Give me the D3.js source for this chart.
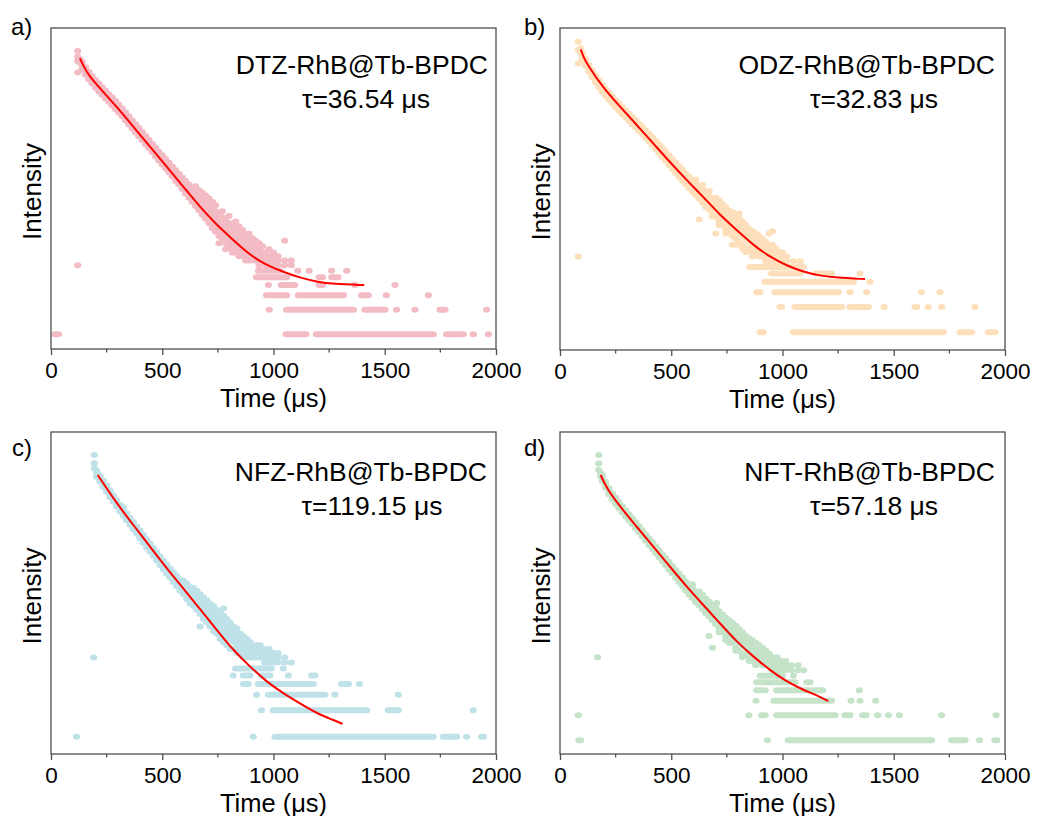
<!DOCTYPE html>
<html>
<head>
<meta charset="utf-8">
<script src="https://cdn.jsdelivr.net/npm/d3@7"></script>
<style>
  body { margin: 0; background: #fff; }
</style>
</head>
<body>
<div id="chart"></div>
<script>
// ---- data ----
const xTicks = [0, 500, 1000, 1500, 2000];
const xMinorTicks = [250, 750, 1250, 1750];

const panelLabels = ["a)", "b)", "c)", "d)"];
const sampleNames = ["DTZ-RhB@Tb-BPDC", "ODZ-RhB@Tb-BPDC", "NFZ-RhB@Tb-BPDC", "NFT-RhB@Tb-BPDC"];
const lifetimes = ["τ=36.54 μs", "τ=32.83 μs", "τ=119.15 μs", "τ=57.18 μs"];

// intensity (counts) range of each log axis
const yRangeA = [0.661, 5610];
const yRangeB = [0.616, 4195];
const yRangeC = [0.635, 2980];
const yRangeD = [0.684, 5183];

// decay points: [time (μs), [counts at that time]]
const bandA = [
  [120,[2940,2500,2200,1600]],[130,[2350,2100]],[140,[2150,1950,1750]],[155,[1850,1680,1500]],
  [170,[1620,1460,1320]],[185,[1450,1300,1170]],[200,[1300,1160,1040]],[215,[1170,1050,940]],
  [230,[1060,950,850]],[245,[960,860,770]],[260,[870,780,700]],[275,[790,705,630]],
  [290,[715,640,570]],[305,[645,575,515]],[320,[580,520,465]],[335,[520,465,415]],
  [350,[465,415,370]],[365,[415,370,330]],[380,[372,332,296,350]],[395,[335,298,265]],
  [410,[300,266,238,285]],[425,[268,238,212,255]],[440,[240,213,190,228]],[455,[215,190,170,205]],
  [470,[192,170,150,182]],[485,[172,152,134,165]],[500,[155,136,120,148]],[515,[140,122,107,132]],
  [530,[126,110,96,118]],[545,[113,98,86,106,92]],[560,[102,88,76,95]],[575,[92,79,68,85,74]],
  [590,[83,70,60,77,66]],[605,[75,63,53,69,58]],[620,[68,56,47,62,51]],[635,[62,50,42,56,45]],
  [650,[57,45,37,50,41,65]],[665,[52,40,33,45,36,58]],[680,[47,36,29,41,32,54]],[695,[43,32,26,37,29,50]],
  [710,[39,29,23,33,26,46]],[725,[35,26,20,30,23,42]],[740,[32,24,18,27,21,38]],[755,[29,22,16,25,19,13]],
  [770,[27,20,15,23,17,32]],[785,[25,18,13,21,16,11]],[800,[23,17,12,19,14,28]],[815,[21,16,11,18,13,10]],
  [830,[19,15,10,16,12,24]],[845,[18,14,9,15,11,21]],[860,[17,13,9,14,10,19]],[875,[15,12,8,13,10,17]],
  [890,[14,11,8,12,9,17]],[905,[13,10,8,11,9,15]],[920,[12,10,8,11,14]],[935,[11,9,7,10,13]],
  [950,[10,9,8,12]],[965,[10,8,7,9]],[980,[9,8,7,11]],[1000,[9,8,7,10]],[1020,[8,7,9]],
  [1050,[14,8,7]],[1080,[8,7]]
];
const bandB = [
  [82,[2880,2300,1590]],[92,[2400,2150]],[100,[2150,1950,1800]],[115,[1780,1620,1480]],
  [130,[1520,1380,1260]],[145,[1310,1190,1090]],[160,[1140,1030,940]],[175,[1000,905,825]],
  [190,[880,800,730]],[205,[785,715,650]],[220,[710,645,585]],[235,[640,580,528]],
  [250,[580,525,478]],[265,[528,478,435]],[280,[480,435,395]],[295,[438,397,360]],
  [310,[400,362,330]],[325,[365,330,300]],[340,[335,302,275,318]],[355,[305,276,250]],
  [370,[278,251,228,264]],[385,[253,228,207]],[400,[230,207,188,218]],[415,[210,188,170,198]],
  [430,[190,168,151,178]],[445,[172,151,135,160]],[460,[156,136,122,145]],[475,[141,123,110,131]],
  [490,[128,110,98,118]],[505,[116,100,88,107]],[520,[105,90,79,97]],[535,[95,81,71,88]],
  [550,[86,73,64,79]],[565,[78,66,58,72]],[580,[71,60,52,65]],[595,[65,55,47,60]],
  [610,[60,50,43,55,66]],[625,[55,45,39,50,22]],[640,[51,41,35,46,57]],[655,[47,37,32,42,31]],
  [670,[43,34,29,38,48]],[685,[39,31,26,35,24]],[700,[36,28,24,32,40,15]],[715,[33,25,21,29,19,37]],
  [730,[30,23,19,27,34]],[745,[28,21,17,25,15,31]],[760,[26,19,16,23,28]],[775,[24,18,14,21,11,27]],
  [790,[22,16,13,19,11,25]],[805,[20,15,12,18,23,26]],[820,[18,14,11,16,10,21]],[835,[17,13,10,15,9,19]],
  [850,[15,12,10,14,17]],[865,[14,11,9,12,8,16]],[880,[13,10,9,12,15]],[895,[12,10,8,11,14]],
  [910,[11,9,8,10,13]],[925,[10,9,7,12]],[940,[10,8,7,9,11,15]],[955,[9,8,7,16,11]],
  [970,[9,8,7,10]],[985,[8,7,9]],[1000,[8,7,9]],[1020,[7,8]],[1050,[7,6]],[1080,[7]]
];
const bandC = [
  [195,[1630,1310,1150]],[205,[1080,990,920]],[220,[950,870,805]],[235,[835,765,705]],
  [250,[735,672,618]],[265,[645,590,542]],[280,[566,518,476]],[295,[498,455,418]],
  [310,[442,403,370]],[325,[395,360,330,410]],[340,[352,320,294]],[355,[313,285,261]],
  [370,[280,254,232]],[385,[250,226,206]],[400,[224,202,183]],[415,[200,180,163]],
  [430,[178,160,145]],[445,[160,143,129]],[460,[143,127,115]],[475,[128,114,102]],
  [490,[114,101,91]],[505,[102,90,81,95]],[520,[92,81,72]],[535,[83,73,65,77]],
  [550,[75,65,58]],[565,[68,59,52,63]],[580,[62,53,46,57]],[595,[56,48,42,51,60]],
  [610,[51,43,37,46,56]],[625,[46,39,33,42,51]],[640,[44,36,31,40,50,33]],[655,[40,32,28,36,46]],
  [670,[37,29,25,32,42,18]],[685,[34,26,22,30,39,24]],[700,[31,24,20,27,36,21]],[715,[29,22,18,25,33]],
  [730,[27,20,16,23,31,17]],[745,[25,18,15,21,28]],[760,[23,16,13,19,26,14]],[775,[21,15,12,18,29,24]],
  [790,[19,14,11,16,22]],[805,[18,13,10,15,20]],[820,[16,12,10,14,18]],[835,[15,11,9,13,17]],
  [850,[14,10,9,12,15]],[865,[13,10,8,11,14]],[880,[12,9,8,10,13]],[895,[11,9,8,10,12]],
  [910,[10,9,8,11]],[925,[10,9,8,11]],[940,[9,8,10,11]],[960,[9,8,7,10]],[980,[8,7,9,10]],
  [1000,[8,7,9]],[1020,[8,7,9]],[1050,[7,8]],[1080,[7]]
];
const bandD = [
  [174,[2735,2170,1800]],[183,[1650,1520]],[190,[1560,1430,1320]],[205,[1300,1190,1100]],
  [220,[1090,1000,920]],[235,[950,870,800]],[250,[840,770,705]],[265,[740,680,625]],
  [280,[660,605,555]],[295,[592,543,498]],[310,[530,486,446]],[325,[475,435,400]],
  [340,[424,388,356]],[355,[380,348,319]],[370,[340,311,285]],[385,[304,277,253,290]],
  [400,[272,248,226]],[415,[244,222,202,233]],[430,[218,199,181]],[445,[195,177,161,186]],
  [460,[175,159,144]],[475,[157,142,128,150]],[490,[141,127,114]],[505,[126,114,102,120]],
  [520,[113,102,91]],[535,[102,91,81,96]],[550,[92,82,72,87]],[565,[82,73,64,78]],
  [580,[75,66,57,70]],[595,[68,60,52,64,76]],[610,[62,54,46,58]],[625,[56,49,42,53,62]],
  [640,[51,44,38,48,57]],[655,[46,40,34,43,51]],[670,[42,36,31,39,47,18]],[685,[38,32,28,35,43,13]],
  [700,[35,29,25,32,39]],[704,[45]],[715,[32,26,22,29,36,20]],[730,[29,24,20,27,33]],
  [745,[27,21,18,24,30,16]],[760,[25,19,16,22,28,15]],[775,[23,18,15,20,26]],[790,[21,16,13,18,24,12]],
  [805,[19,15,12,17,22]],[820,[17,14,11,15,20,10]],[835,[16,13,11,14,18]],[850,[15,12,10,13,17,9]],
  [865,[14,11,9,12,16]],[880,[13,10,9,11,15,8]],[895,[12,10,9,11,14]],[910,[11,9,8,10,13]],
  [925,[10,9,8,12]],[940,[10,9,8,11]],[955,[9,8,7,10]],[975,[9,8,7,10]],[995,[8,7,9]],
  [1015,[8,7,9]],[1040,[7,8]],[1070,[7,8]],[1095,[7]]
];

// low-count runs of overlapping points: [counts, first time, last time]
const rowsA = [
  [1,18,33],[1,1056,1146],[1,1193,1718],[1,1778,1853],[1,1898,1898],[1,1966,1966],
  [2,981,981],[2,1059,1359],[2,1411,1501],[2,1553,1553],[2,1636,1636],[2,1748,1771],[2,1958,1958],
  [3,969,1059],[3,1112,1314],[3,1396,1426],[3,1507,1507],[3,1696,1696],
  [4,977,977],[4,1035,1095],[4,1205,1220],[4,1366,1366],[4,1546,1546],
  [5,924,1059],[5,1205,1220],[5,1262,1290],
  [6,932,1030],[6,1109,1109],[6,1160,1160],[6,1261,1261],[6,1329,1329],
  [7,120,120]
];
const rowsB = [
  [1,899,914],[1,1049,1723],[1,1798,1850],[1,1925,1955],
  [2,989,996],[2,1056,1266],[2,1303,1386],[2,1457,1457],[2,1595,1603],[2,1655,1655],[2,1715,1715],[2,1865,1865],
  [3,884,899],[3,966,1251],[3,1303,1303],[3,1378,1378],[3,1625,1625],[3,1708,1708],
  [4,921,1318],[4,1393,1393],
  [5,951,1079],[5,1150,1220],[5,1348,1348],
  [6,854,1094],
  [8,82,82]
];
const rowsC = [
  [1,115,115],[1,909,909],[1,1007,1718],[1,1763,1823],[1,1868,1868],[1,1935,1944],
  [2,946,946],[2,999,1419],[2,1516,1561],[2,1898,1898],
  [3,924,924],[3,977,1231],[3,1276,1276],[3,1561,1561],
  [4,865,886],[4,932,1179],[4,1306,1337],[4,1386,1386],
  [5,819,819],[5,864,894],[5,947,984],[5,1067,1067],[5,1172,1186],
  [6,830,990],[6,1044,1044],
  [8,192,192]
];
const rowsD = [
  [1,85,92],[1,932,932],[1,1026,1670],[1,1760,1820],[1,1885,1885],[1,1955,1963],
  [2,82,82],[2,849,849],[2,906,922],[2,974,1236],[2,1281,1303],[2,1360,1375],[2,1428,1428],
  [2,1476,1476],[2,1525,1525],[2,1715,1715],[2,1960,1960],
  [3,881,881],[3,962,1221],[3,1308,1308],[3,1348,1348],[3,1419,1419],
  [4,884,922],[4,974,1180],[4,1345,1345],
  [5,884,1056],[5,1109,1124],
  [6,900,1000],[6,1049,1049],
  [10,169,169]
];

// fitted decay curves: [time (μs), counts]
const fitA = [[130,2390],[145,1950],[168,1493],[220,1026],[295,611],[370,348],[445,198],[520,113],[595,64],
  [670,36],[745,21.8],[819,14.3],[894,9.3],[969,7.05],[1044,5.8],[1119,4.93],[1194,4.4],[1269,4.13],[1408,4.0]];
const fitB = [[93,2340],[105,1910],[120,1590],[195,803],[270,485],[345,294],[419,178],[494,106],[569,65],
  [644,41],[719,24.9],[794,16.5],[869,10.9],[944,7.9],[1019,6.2],[1094,5.26],[1169,4.72],[1243,4.47],[1371,4.3]];
const fitC = [[210,964],[295,459],[370,259],[445,147],[520,83],[595,49],[670,28.4],[745,16.5],
  [819,9.7],[894,6.3],[969,4.24],[1044,3.12],[1119,2.4],[1194,1.85],[1269,1.55],[1311,1.4]];
const fitD = [[183,1572],[210,1083],[270,653],[345,374],[419,215],[494,124],[569,71],[644,42.7],
  [719,25.7],[794,15.4],[869,10.2],[944,7.0],[1019,5.08],[1094,4.04],[1169,3.35],[1206,2.97]];

// ---- layout and style ----
const FONT = "Arial, 'Liberation Sans', sans-serif";
const AXIS = "#4f4f4f";
const DOT_RX = 3.6, DOT_RY = 3.0;
const colors = ["#f3bbc3", "#fde0bb", "#bfe1e8", "#c5e3c8"];

const layout = [
  {x0: 51,  x1: 496,  y0: 28,  y1: 349, nameX: 488, nameY: 74,  tauX: 366, tauY: 108, labX: 11,  labY: 35,  titleX: 41},
  {x0: 560, x1: 1005, y0: 28,  y1: 350, nameX: 995, nameY: 74,  tauX: 874, tauY: 108, labX: 524, labY: 35,  titleX: 550},
  {x0: 51,  x1: 496,  y0: 432, y1: 754, nameX: 487, nameY: 481, tauX: 372, tauY: 515, labX: 12,  labY: 456, titleX: 41},
  {x0: 560, x1: 1005, y0: 432, y1: 754, nameX: 995, nameY: 481, tauX: 874, tauY: 515, labX: 524, labY: 456, titleX: 550}
];

const panels = [
  {band: bandA, rows: rowsA, fit: fitA, yRange: yRangeA},
  {band: bandB, rows: rowsB, fit: fitB, yRange: yRangeB},
  {band: bandC, rows: rowsC, fit: fitC, yRange: yRangeC},
  {band: bandD, rows: rowsD, fit: fitD, yRange: yRangeD}
];

const svg = d3.select("#chart").append("svg")
  .attr("width", 1037)
  .attr("height", 816)
  .style("font-family", FONT);

panels.forEach((p, i) => {
  const L = layout[i];
  const color = colors[i];
  const x = d3.scaleLinear().domain([0, 2000]).range([L.x0, L.x1]);
  const y = d3.scaleLog().domain(p.yRange).range([L.y1, L.y0]);
  const g = svg.append("g");

  // runs of low-count points
  g.append("g").selectAll("rect")
    .data(p.rows)
    .join("rect")
      .attr("x", d => x(d[1]) - DOT_RX)
      .attr("y", d => y(d[0]) - DOT_RY)
      .attr("width", d => x(d[2]) - x(d[1]) + 2 * DOT_RX)
      .attr("height", 2 * DOT_RY)
      .attr("rx", DOT_RX)
      .attr("ry", DOT_RY)
      .attr("fill", color);

  // decay points
  const pts = p.band.flatMap(([t, cs]) => cs.map(c => ({t, c})));
  g.append("g").selectAll("ellipse")
    .data(pts)
    .join("ellipse")
      .attr("cx", d => x(d.t))
      .attr("cy", d => y(d.c))
      .attr("rx", DOT_RX)
      .attr("ry", DOT_RY)
      .attr("fill", color);

  // fit
  const line = d3.line()
    .x(d => x(d[0]))
    .y(d => y(d[1]))
    .curve(d3.curveBasis);
  g.append("path")
    .datum(p.fit)
    .attr("d", line)
    .attr("fill", "none")
    .attr("stroke", "#ff0000")
    .attr("stroke-width", 2);

  // frame
  g.append("rect")
    .attr("x", L.x0).attr("y", L.y0)
    .attr("width", L.x1 - L.x0).attr("height", L.y1 - L.y0)
    .attr("fill", "none")
    .attr("stroke", AXIS)
    .attr("stroke-width", 1.3);

  // x axis
  const ax = g.append("g")
    .attr("transform", "translate(0," + L.y1 + ")")
    .call(d3.axisBottom(x).tickValues(xTicks).tickSize(6).tickFormat(d3.format("d")));
  ax.attr("font-family", FONT).attr("font-size", 22.5);
  ax.select(".domain").remove();
  ax.selectAll(".tick line").attr("stroke", AXIS).attr("stroke-width", 1.3);
  ax.selectAll(".tick text").attr("y", 29).attr("dy", null).attr("fill", "#000");
  g.append("g").selectAll("line")
    .data(xMinorTicks)
    .join("line")
      .attr("x1", d => x(d)).attr("x2", d => x(d))
      .attr("y1", L.y1).attr("y2", L.y1 + 3.5)
      .attr("stroke", AXIS)
      .attr("stroke-width", 1.3);

  // axis titles
  g.append("text")
    .attr("x", (L.x0 + L.x1) / 2)
    .attr("y", L.y1 + 58)
    .attr("text-anchor", "middle")
    .attr("font-size", 25.5)
    .text("Time (μs)");
  g.append("text")
    .attr("transform", "translate(" + L.titleX + "," + ((L.y0 + L.y1) / 2 + 3) + ") rotate(-90)")
    .attr("text-anchor", "middle")
    .attr("font-size", 26)
    .text("Intensity");

  // annotations
  g.append("text")
    .attr("x", L.nameX).attr("y", L.nameY)
    .attr("text-anchor", "end")
    .attr("font-size", 26.5)
    .text(sampleNames[i]);
  g.append("text")
    .attr("x", L.tauX).attr("y", L.tauY)
    .attr("text-anchor", "middle")
    .attr("font-size", 26.5)
    .text(lifetimes[i]);
  g.append("text")
    .attr("x", L.labX).attr("y", L.labY)
    .attr("font-size", 24)
    .text(panelLabels[i]);
});
</script>
</body>
</html>
